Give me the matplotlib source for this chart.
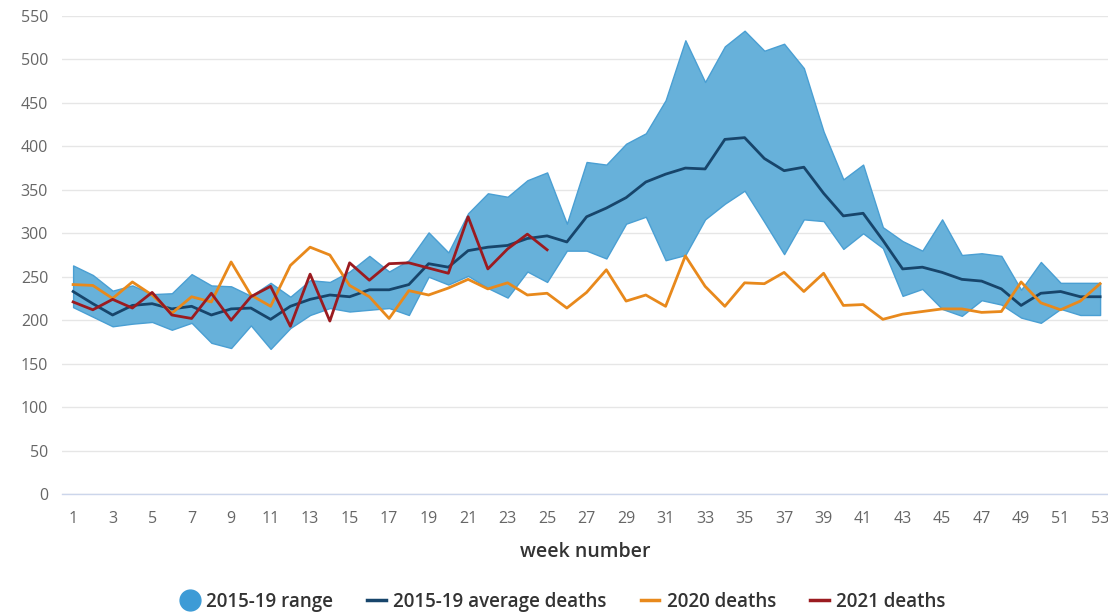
import numpy as np
import matplotlib.pyplot as plt
from matplotlib.lines import Line2D

plt.rcParams['font.family'] = ['Open Sans', 'DejaVu Sans']

# ==================== data ====================
weeks = np.arange(1, 54)

range_hi = [263, 252, 234, 240, 230, 231, 253, 240, 239, 228,
            243, 227, 246, 244, 256, 274, 256, 269, 301, 278,
            323, 346, 342, 361, 370, 311, 382, 379, 403, 415,
            453, 522, 474, 515, 533, 510, 518, 490, 417, 362,
            379, 307, 291, 280, 316, 275, 277, 274, 235, 267,
            243, 243, 243]
range_lo = [215, 204, 193, 196, 198, 189, 197, 174, 168, 194,
            167, 191, 206, 214, 210, 212, 214, 206, 250, 241,
            251, 237, 226, 256, 244, 280, 280, 271, 311, 319,
            269, 275, 316, 334, 349, 313, 276, 316, 314, 282,
            300, 283, 228, 236, 213, 205, 223, 218, 203, 197,
            213, 206, 206]
avg_1519 = [233, 219, 206, 217, 219, 213, 216, 206, 213, 214,
            201, 216, 224, 229, 227, 235, 235, 241, 265, 261,
            280, 284, 286, 294, 297, 290, 319, 329, 341, 359,
            368, 375, 374, 408, 410, 386, 372, 376, 346, 320,
            323, 292, 259, 261, 255, 247, 245, 236, 217, 231,
            233, 227, 227]
deaths_2020 = [241, 240, 225, 244, 229, 208, 227, 221, 267, 229,
               216, 263, 284, 275, 240, 227, 202, 234, 229, 237,
               247, 236, 243, 229, 231, 214, 232, 258, 222, 229,
               216, 274, 239, 216, 243, 242, 255, 233, 254, 217,
               218, 201, 207, 210, 213, 213, 209, 210, 244, 220,
               212, 222, 242]
deaths_2021 = [221, 212, 224, 214, 232, 206, 202, 231, 200, 227,
               239, 193, 253, 199, 266, 246, 265, 266, 260, 254,
               319, 259, 282, 299, 281]
# ==============================================

c_range = '#67b1da'
c_range_edge = '#4a9fd3'
c_avg = '#17456b'
c_2020 = '#e8891c'
c_2021 = '#9b1b20'

fig = plt.figure(figsize=(11.08, 6.13), dpi=100)
ax = fig.add_axes([0.056, 0.194, 0.944, 0.78])

ax.fill_between(weeks, range_lo, range_hi, facecolor=c_range, edgecolor=c_range_edge,
                linewidth=1, alpha=1, zorder=2)
ax.plot(weeks, avg_1519, color=c_avg, linewidth=2, zorder=3)
ax.plot(weeks, deaths_2020, color=c_2020, linewidth=2, zorder=4)
ax.plot(weeks[:len(deaths_2021)], deaths_2021, color=c_2021, linewidth=2, zorder=5)

ax.set_xlim(0.44, 53.4)
ax.set_ylim(0, 550)
ax.set_yticks(np.arange(0, 551, 50))
ax.set_xticks(np.arange(1, 54, 2))
ax.grid(axis='y', color='#e6e6e6', linewidth=1, zorder=0)
ax.set_axisbelow(True)
for s in ['top', 'right', 'left']:
    ax.spines[s].set_visible(False)
ax.spines['bottom'].set_color('#ccd6eb')
ax.spines['bottom'].set_linewidth(1)
ax.tick_params(axis='both', length=0, labelsize=11.5, colors='#666666')
ax.tick_params(axis='x', pad=12)
ax.tick_params(axis='y', pad=10)
ax.set_xlabel('week number', fontsize=14, color='#333333', labelpad=11,
              fontweight='semibold')

handles = [
    Line2D([], [], marker='o', linestyle='none', markersize=15,
           markerfacecolor='#3d9bd6', markeredgecolor='#3d9bd6'),
    Line2D([], [], color=c_avg, linewidth=2.5),
    Line2D([], [], color=c_2020, linewidth=2.5),
    Line2D([], [], color=c_2021, linewidth=2.5),
]
labels = ['2015-19 range', '2015-19 average deaths', '2020 deaths', '2021 deaths']
fig.legend(handles, labels, loc='center', bbox_to_anchor=(0.508, 0.018), ncol=4,
           frameon=False, handlelength=1.0, handletextpad=0.4,
           columnspacing=1.8, labelcolor='#333333',
           prop={'size': 13.5, 'weight': 'semibold'})

plt.savefig('out.png', dpi=100)
